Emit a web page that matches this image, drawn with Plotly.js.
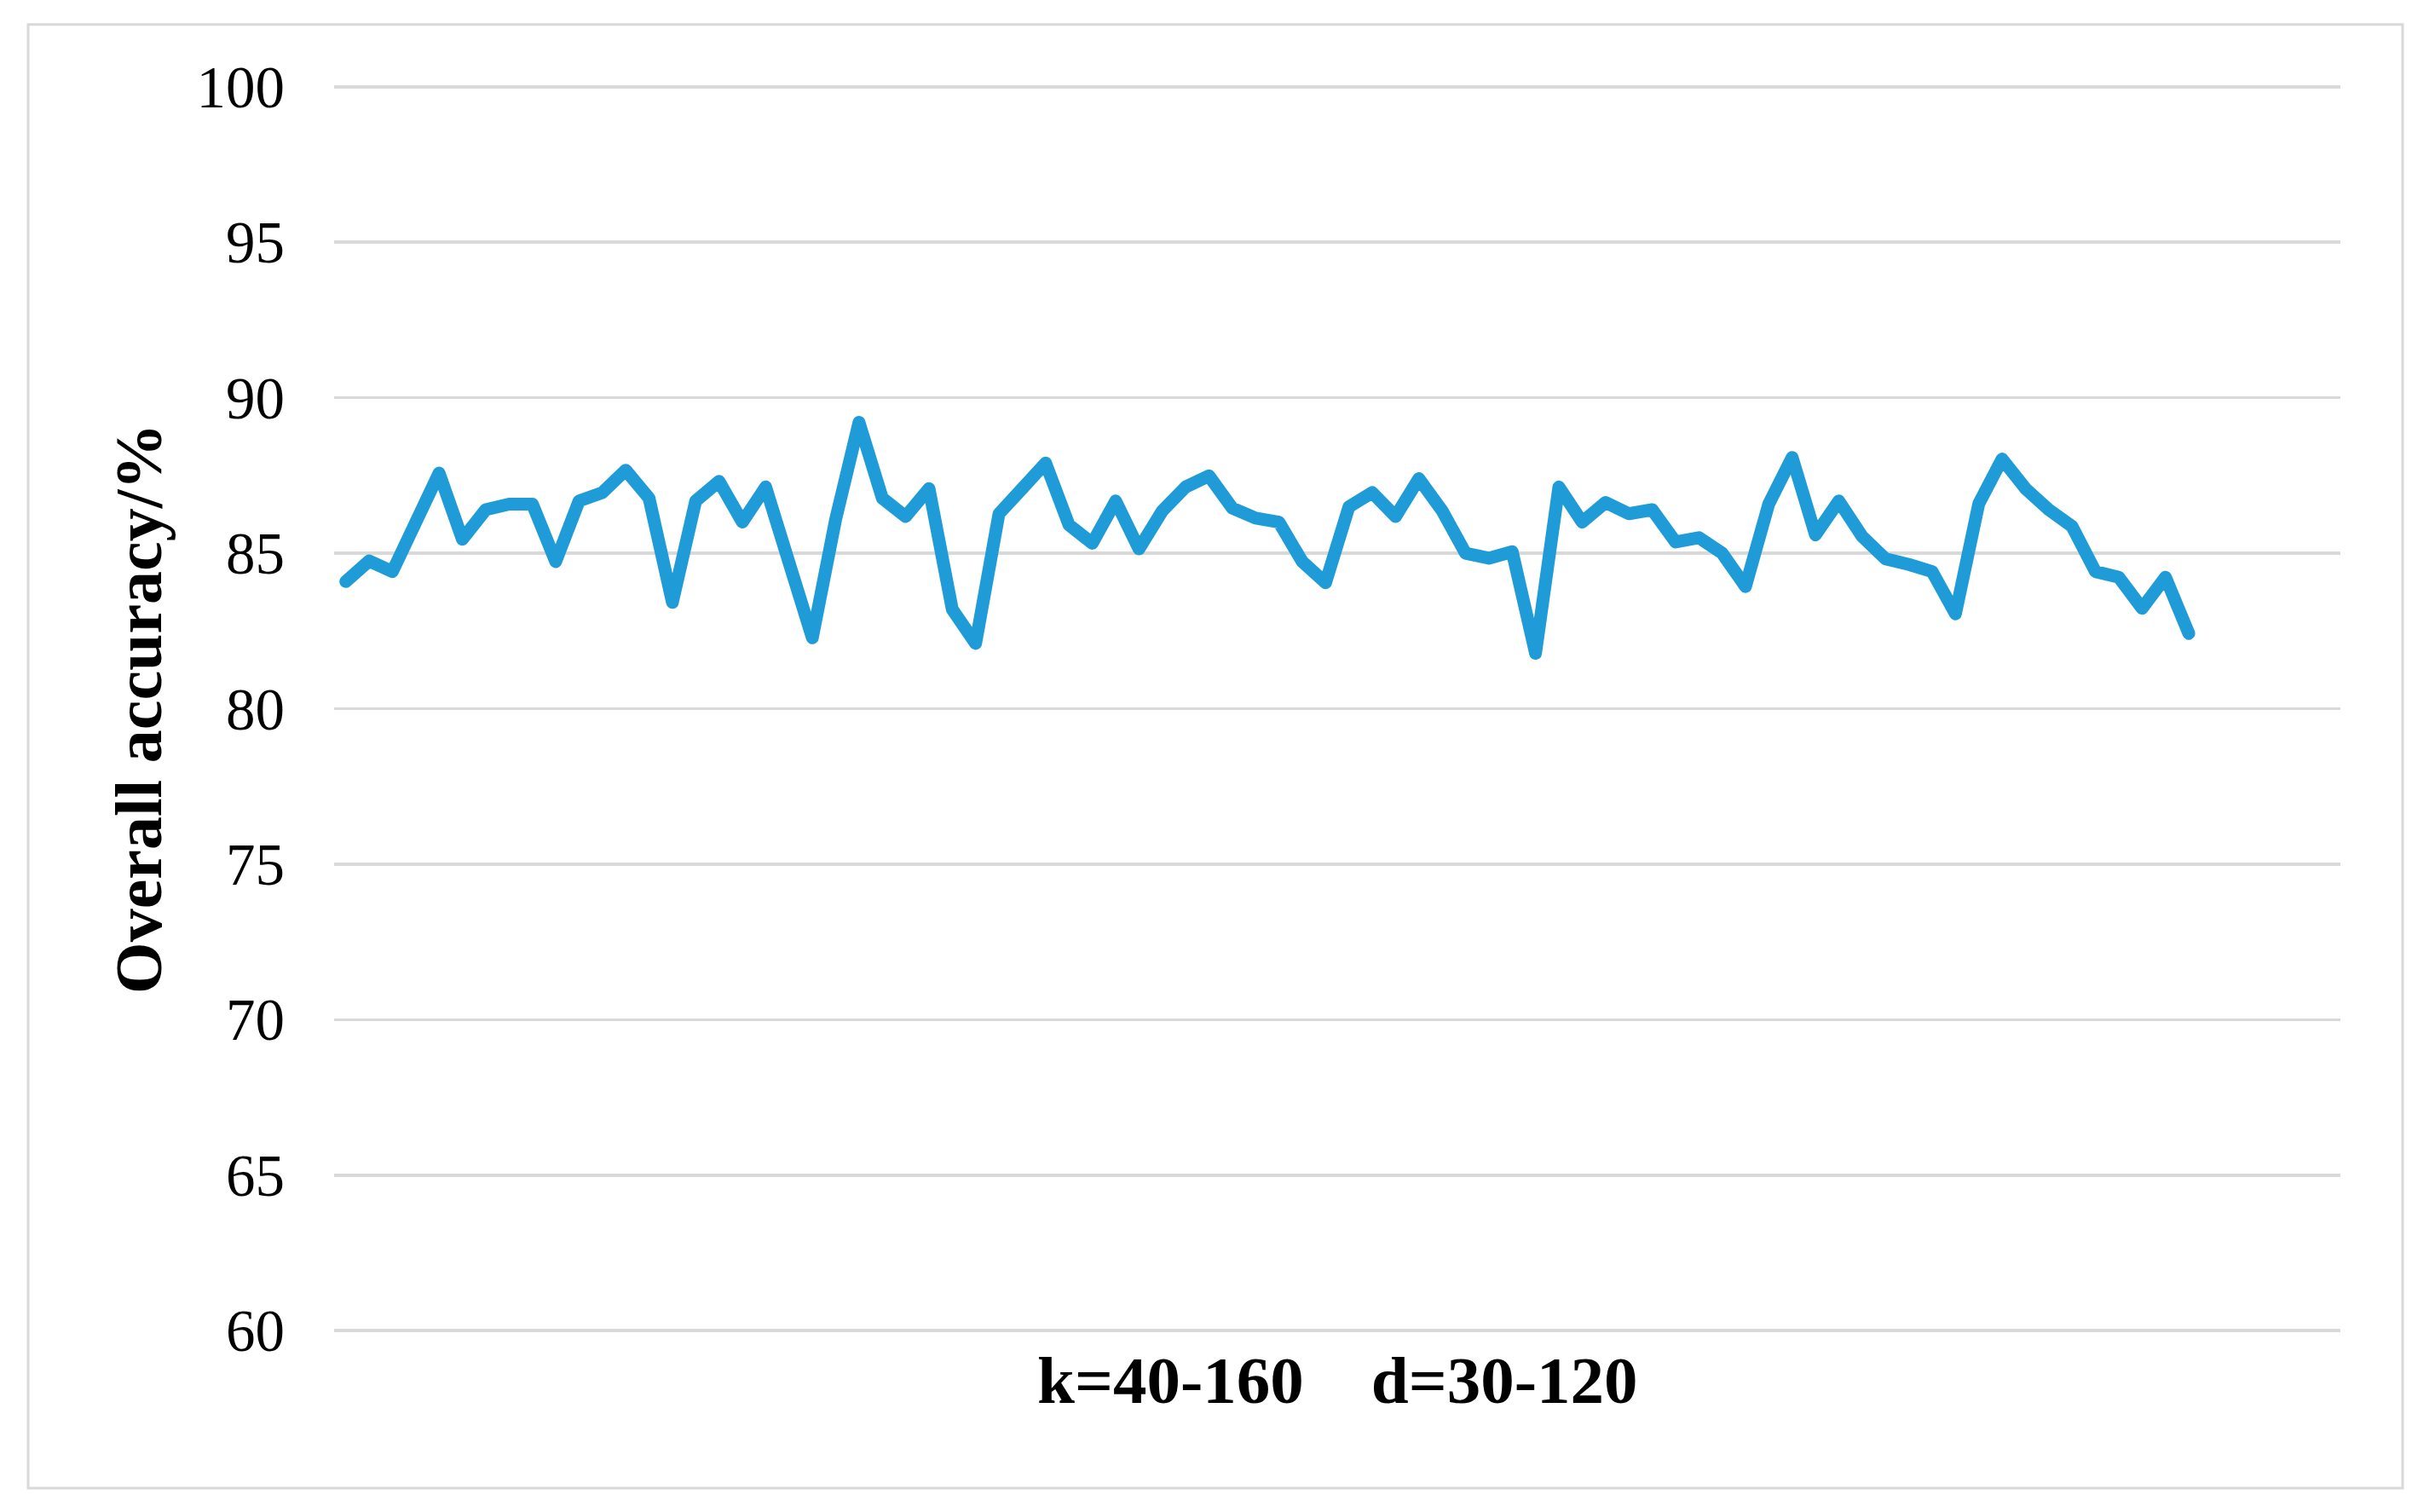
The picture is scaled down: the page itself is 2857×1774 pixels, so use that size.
<!DOCTYPE html>
<html>
<head>
<meta charset="utf-8">
<script src="https://cdn.plot.ly/plotly-3.0.1.min.js"></script>
<style>
  html, body { margin: 0; padding: 0; background: #fff; }
  #chart { width: 2857px; height: 1774px; }
  #chart .scatterlayer path.js-line { stroke-linejoin: round; stroke-linecap: round; }
</style>
</head>
<body>
<div id="chart"></div>
<script>
// overall accuracy for each k/d combination
var accuracy = [
    84.09, 84.75, 84.41, 86.0, 87.58, 85.45, 86.40, 86.58, 86.58, 84.73,
    86.68, 86.95, 87.67, 86.77, 83.42, 86.68, 87.31, 86.0, 87.13, 84.7,
    82.28, 86.09, 89.21, 86.77, 86.18, 87.08, 83.19, 82.10, 86.27, 87.08,
    87.90, 85.91, 85.32, 86.68, 85.14, 86.36, 87.13, 87.49, 86.45, 86.13,
    86.0, 84.73, 84.05, 86.49, 86.95, 86.18, 87.40, 86.36, 85.0, 84.84,
    85.05, 81.78, 87.13, 86.0, 86.63, 86.27, 86.40, 85.36, 85.50, 85.0,
    83.93, 86.59, 88.08, 85.59, 86.68, 85.54, 84.82, 84.64, 84.41, 83.05,
    86.59, 88.03, 87.08, 86.40, 85.86, 84.41, 84.23, 83.23, 84.23, 82.42
];
var yTicks = [60, 65, 70, 75, 80, 85, 90, 95, 100];
var xTitle = 'k=40-160\u00a0\u00a0\u00a0\u00a0d=30-120';
var yTitle = 'Overall accuracy/%';

var runs = accuracy.map(function (v, i) { return i + 1; });

var serif = 'Liberation Serif, Times New Roman, serif';

var trace = {
    x: runs,
    y: accuracy,
    type: 'scatter',
    mode: 'lines',
    line: {color: '#1f9bd7', width: 15},
    hoverinfo: 'skip'
};

// small pad so the 60 and 100 gridlines are drawn
var layout = {
    width: 2857,
    height: 1774,
    margin: {l: 392, r: 111, t: 100.2, b: 210.7},
    paper_bgcolor: '#ffffff',
    plot_bgcolor: '#ffffff',
    showlegend: false,
    font: {family: serif, color: '#000000'},
    xaxis: {
        range: [0.5, 86.5],
        showticklabels: false,
        showgrid: false,
        zeroline: false,
        showline: false,
        ticks: ''
    },
    yaxis: {
        range: [59.95, 100.05],
        tickvals: yTicks,
        ticktext: yTicks.map(String),
        tickfont: {family: serif, size: 69, color: '#000000'},
        ticklabelstandoff: 57,
        showgrid: true,
        gridcolor: '#d9d9d9',
        gridwidth: 3.5,
        zeroline: false,
        showline: false,
        ticks: ''
    },
    annotations: [
        {
            text: '<b>' + yTitle + '</b>',
            xref: 'paper', yref: 'paper',
            x: -0.0975, y: 0.5,
            xanchor: 'center', yanchor: 'middle',
            textangle: -90,
            showarrow: false,
            font: {family: serif, size: 78, color: '#000000'}
        },
        {
            text: '<b>' + xTitle + '</b>',
            xref: 'paper', yref: 'paper',
            x: 0.5, y: -0.0387,
            xanchor: 'center', yanchor: 'middle',
            showarrow: false,
            font: {family: serif, size: 79, color: '#000000'}
        }
    ],
    shapes: [
        {
            type: 'rect',
            xref: 'paper', yref: 'paper',
            x0: -0.1525, x1: 1.0310,
            y0: -0.125, y1: 1.0487,
            line: {color: '#d9d9d9', width: 3},
            fillcolor: 'rgba(0,0,0,0)',
            layer: 'below'
        }
    ]
};

Plotly.newPlot('chart', [trace], layout, {displayModeBar: false, staticPlot: true});
</script>
</body>
</html>
